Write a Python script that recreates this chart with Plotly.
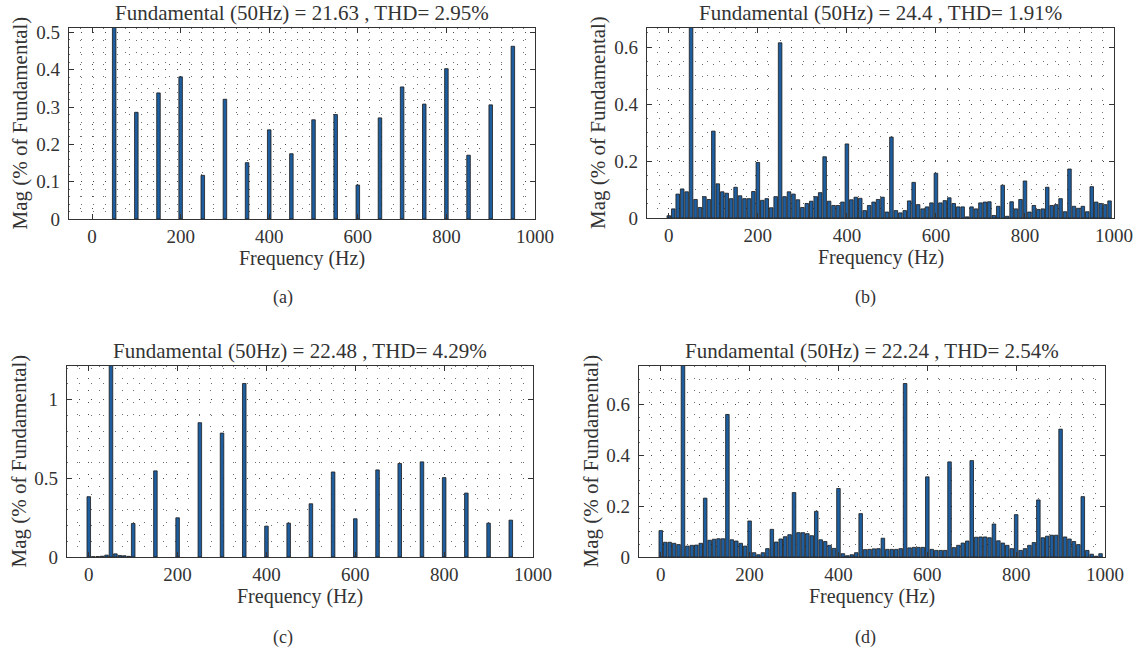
import plotly.graph_objects as go

# ---------------- data ----------------
freq_a = [50, 100, 150, 200, 250, 300, 350, 400, 450, 500, 550, 600, 650, 700, 750, 800, 850, 900, 950]
mag_a = [100, 0.286, 0.338, 0.381, 0.117, 0.321, 0.151, 0.239, 0.175, 0.266, 0.280, 0.091, 0.271,
         0.354, 0.308, 0.403, 0.171, 0.306, 0.463]

freq_bd = list(range(0, 1000, 10))
mag_b = [0.008, 0.032, 0.084, 0.102, 0.092, 100, 0.065, 0.037, 0.075, 0.065,
         0.305, 0.120, 0.092, 0.087, 0.068, 0.108, 0.078, 0.068, 0.068, 0.093,
         0.195, 0.062, 0.068, 0.036, 0.075, 0.615, 0.075, 0.092, 0.084, 0.064,
         0.037, 0.051, 0.059, 0.075, 0.089, 0.215, 0.059, 0.044, 0.044, 0.056,
         0.260, 0.064, 0.073, 0.069, 0.026, 0.044, 0.056, 0.065, 0.073, 0.021,
         0.284, 0.026, 0.018, 0.026, 0.060, 0.125, 0.047, 0.032, 0.039, 0.053,
         0.157, 0.053, 0.061, 0.071, 0.051, 0.039, 0.039, 0.004, 0.039, 0.032,
         0.053, 0.056, 0.057, 0.009, 0.041, 0.115, 0.006, 0.057, 0.032, 0.065,
         0.130, 0.021, 0.044, 0.030, 0.032, 0.108, 0.044, 0.047, 0.068, 0.022,
         0.172, 0.041, 0.034, 0.041, 0.022, 0.110, 0.056, 0.051, 0.047, 0.060]

freq_c = [0, 10, 20, 30, 40, 50, 60, 70, 80, 90, 100, 150, 200, 250, 300, 350, 400, 450, 500,
          550, 600, 650, 700, 750, 800, 850, 900, 950]
mag_c = [0.383, 0.002, 0.003, 0.005, 0.012, 100, 0.020, 0.010, 0.008, 0.004, 0.213, 0.547, 0.249,
         0.853, 0.787, 1.102, 0.196, 0.215, 0.338, 0.540, 0.243, 0.553, 0.594, 0.604, 0.504,
         0.406, 0.215, 0.234]

mag_d = [0.104, 0.058, 0.058, 0.054, 0.049, 100, 0.043, 0.046, 0.047, 0.054,
         0.232, 0.066, 0.070, 0.072, 0.072, 0.562, 0.068, 0.063, 0.054, 0.043,
         0.142, 0.017, 0.009, 0.017, 0.033, 0.109, 0.059, 0.071, 0.080, 0.088,
         0.254, 0.096, 0.096, 0.092, 0.084, 0.180, 0.068, 0.061, 0.046, 0.034,
         0.270, 0.013, 0.005, 0.009, 0.017, 0.171, 0.029, 0.030, 0.032, 0.033,
         0.074, 0.030, 0.030, 0.030, 0.033, 0.684, 0.036, 0.038, 0.038, 0.038,
         0.316, 0.030, 0.026, 0.026, 0.026, 0.375, 0.037, 0.046, 0.055, 0.063,
         0.380, 0.078, 0.079, 0.079, 0.076, 0.130, 0.064, 0.055, 0.046, 0.033,
         0.167, 0.026, 0.033, 0.046, 0.057, 0.225, 0.076, 0.082, 0.086, 0.086,
         0.504, 0.079, 0.071, 0.061, 0.049, 0.238, 0.026, 0.011, 0.003, 0.013]

titles = ["Fundamental (50Hz) = 21.63 , THD= 2.95%",
          "Fundamental (50Hz) = 24.4 , THD= 1.91%",
          "Fundamental (50Hz) = 22.48 , THD= 4.29%",
          "Fundamental (50Hz) = 22.24 , THD= 2.54%"]
captions = ["(a)", "(b)", "(c)", "(d)"]
x_ticks = [0, 200, 400, 600, 800, 1000]
y_ticks = [[0, 0.1, 0.2, 0.3, 0.4, 0.5], [0, 0.2, 0.4, 0.6], [0, 0.5, 1], [0, 0.2, 0.4, 0.6]]
y_tick_text = [["0", "0.1", "0.2", "0.3", "0.4", "0.5"], ["0", "0.2", "0.4", "0.6"],
               ["0", "0.5", "1"], ["0", "0.2", "0.4", "0.6"]]
y_ranges = [[0, 0.512], [0, 0.667], [0, 1.213], [0, 0.753]]
y_minor = [0.02, 0.05, 0.1, 0.05]
x_ranges = [[-52, 1000], [-49, 1000], [-49, 1000], [-49, 1000]]

# ---------------- layout geometry (pixels) ----------------
W, H = 1140, 650
boxes = [(69, 535, 28, 219), (647, 1114, 28, 218), (67, 533, 366, 557), (639, 1105, 366, 557)]

FONT = "Liberation Serif"
TXT = "#333333"
BAR_FILL = "#1f5e9e"
BAR_EDGE = "#1a1a1a"
GRID = "rgba(60,60,60,0.75)"
DASH = "1px,11px"

fig = go.Figure()
series = [(freq_a, mag_a), (freq_bd, mag_b), (freq_c, mag_c), (freq_bd, mag_d)]
for i, (fx, fy) in enumerate(series):
    sfx = "" if i == 0 else str(i + 1)
    fig.add_trace(go.Bar(x=fx, y=fy, width=8, xaxis="x" + sfx, yaxis="y" + sfx,
                         marker=dict(color=BAR_FILL, line=dict(color=BAR_EDGE, width=0.8)),
                         showlegend=False, hoverinfo="x+y"))

annotations = []
for i, (x0, x1, y0, y1) in enumerate(boxes):
    sfx = "" if i == 0 else str(i + 1)
    xd = [x0 / W, x1 / W]
    yd = [1 - y1 / H, 1 - y0 / H]
    fig.update_layout(**{
        "xaxis" + sfx: dict(
            domain=xd, anchor="y" + sfx, range=x_ranges[i], tickvals=x_ticks,
            ticktext=[str(v) for v in x_ticks], ticks="inside", ticklen=5, tickcolor="#333",
            showline=True, linecolor="#333", linewidth=1.2, mirror="ticks",
            showgrid=True, gridcolor=GRID, griddash=DASH, gridwidth=1,
            minor=dict(dtick=25, tick0=0, showgrid=True, gridcolor=GRID, griddash=DASH, gridwidth=1),
            zeroline=False, tickfont=dict(family=FONT, size=19, color=TXT), ticklabelstandoff=0,
            automargin=False, fixedrange=True),
        "yaxis" + sfx: dict(
            domain=yd, anchor="x" + sfx, range=y_ranges[i], tickvals=y_ticks[i], ticktext=y_tick_text[i],
            ticks="inside", ticklen=5, tickcolor="#333",
            showline=True, linecolor="#333", linewidth=1.2, mirror="ticks",
            showgrid=True, gridcolor=GRID, griddash=DASH, gridwidth=1,
            minor=dict(dtick=y_minor[i], tick0=0, showgrid=True, gridcolor=GRID, griddash=DASH, gridwidth=1),
            zeroline=False, tickfont=dict(family=FONT, size=19, color=TXT), ticklabelstandoff=4,
            automargin=False, fixedrange=True),
    })
    cx = (x0 + x1) / 2 / W
    # title
    annotations.append(dict(text=titles[i], x=cx, y=1 - (y0 - 15) / H, xref="paper", yref="paper",
                            showarrow=False, font=dict(family=FONT, size=21, color=TXT),
                            xanchor="center", yanchor="middle"))
    # x axis title
    annotations.append(dict(text="Frequency (Hz)", x=cx, y=1 - (y1 + 39) / H, xref="paper", yref="paper",
                            showarrow=False, font=dict(family=FONT, size=20, color=TXT),
                            xanchor="center", yanchor="middle"))
    # y axis title
    annotations.append(dict(text="Mag (% of Fundamental)", x=(x0 - 49) / W, y=1 - (y0 + y1) / 2 / H,
                            xref="paper", yref="paper", textangle=-90, showarrow=False,
                            font=dict(family=FONT, size=21, color=TXT), xanchor="center", yanchor="middle"))
    # caption
    annotations.append(dict(text=captions[i], x=(283 if i % 2 == 0 else 865) / W,
                            y=1 - (297 if i < 2 else 637) / H, xref="paper", yref="paper",
                            showarrow=False, font=dict(family=FONT, size=18, color=TXT),
                            xanchor="center", yanchor="middle"))

fig.update_layout(width=W, height=H, margin=dict(l=0, r=0, t=0, b=0, autoexpand=False),
                  paper_bgcolor="white", plot_bgcolor="white", annotations=annotations,
                  barmode="overlay", showlegend=False)

fig.write_html("out.html", config={"displayModeBar": False},
               post_script="document.body.style.margin='0px';")
